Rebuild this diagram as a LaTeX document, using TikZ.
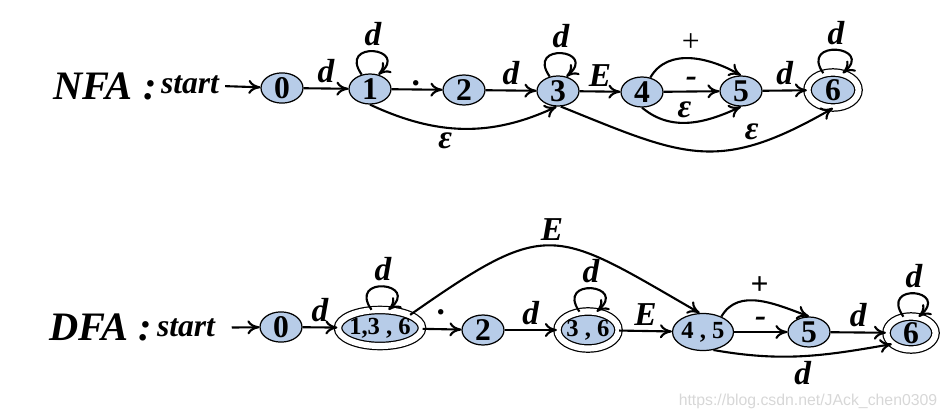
\documentclass[tikz,border=0pt]{standalone}
\usepackage{fontspec}
\setmainfont{Liberation Serif}
\newfontfamily\wmfont{Liberation Sans}
\usetikzlibrary{arrows.meta,shapes.geometric}
\definecolor{stfill}{RGB}{183,204,232}
\definecolor{wmgray}{RGB}{215,215,215}

\begin{document}
\begin{tikzpicture}[x=0.02cm,y=0.02cm,
  state/.style={ellipse,draw,fill=stfill,line width=0.7pt,inner sep=0pt,
                minimum width=0.84cm,minimum height=0.6cm,
                font=\bfseries\fontsize{18}{18}\selectfont},
  accept/.style={state,double,double distance=3.5pt},
  multi/.style={inner xsep=-8pt,font=\bfseries\fontsize{14}{14}\selectfont},
  arr/.style={-{To[length=2.4mm,width=2.8mm]},line width=1.2pt},
  lbl/.style={font=\bfseries\itshape\fontsize{19}{19}\selectfont,inner sep=2.5pt},
  title/.style={font=\bfseries\itshape\fontsize{23}{23}\selectfont},
  begin/.style={font=\bfseries\itshape\fontsize{18}{18}\selectfont}]
  \useasboundingbox (0,0) rectangle (949,-419);

  \node[title] (nfa) at (105,-86) {NFA :};
  \node[begin] (nstart) at (190,-85) {start};
  \node[state] (a0) at (282,-88) {0};
  \node[state] (a1) at (370,-89) {1};
  \node[state] (a2) at (464,-90) {2};
  \node[state] (a3) at (558,-91) {3};
  \node[state] (a4) at (642,-92) {4};
  \node[state] (a5) at (741,-91) {5};
  \node[accept,minimum width=1.02cm,minimum height=0.7cm] (a6) at (833,-90) {6};

  \draw[arr] (nstart) -- (a0);
  \draw[arr] (a0) -- node[lbl,above]{d} (a1);
  \draw[arr] (a1) -- node[lbl,above=-1pt]{.} (a2);
  \draw[arr] (a2) -- node[lbl,above]{d} (a3);
  \draw[arr] (a3) -- node[lbl,above]{E} (a4);
  \draw[arr] (a4) -- node[lbl,above]{-} (a5);
  \draw[arr] (a5) -- node[lbl,above]{d} (a6);
  \foreach \s in {a1,a3,a6}{
    \draw[arr] (\s.120) to[out=125,in=40,distance=0.85cm] node[lbl,above]{d} (\s.60);
  }
  \draw[arr] (a4.60) to[out=60,in=150] node[above,font=\fontsize{18}{18}\selectfont]{+} (a5.north);
  \draw[arr] (a4.south) to[out=-40,in=205] node[lbl,above,pos=0.45]{ε} (a5.south);
  \draw[arr] (a1.south) to[out=-25,in=205] node[lbl,below,pos=0.4]{ε} (a3.265);
  \draw[arr] (a3.280) to[out=-22,in=210,looseness=1.25] node[lbl,above,pos=0.72]{ε} (a6.south);

  \node[title] (dfa) at (101,-327) {DFA :};
  \node[begin] (dstart) at (186,-328) {start};
  \node[state] (b0) at (281,-327) {0};
  \node[accept,multi,minimum width=1.68cm,minimum height=0.72cm] (b1) at (380,-328) {1,3 , 6};
  \node[state] (b2) at (483,-330) {2};
  \node[accept,multi,minimum width=1.22cm,minimum height=0.74cm] (b3) at (588,-330) {3 , 6};
  \node[state,multi,minimum width=1.22cm,minimum height=0.74cm] (b4) at (703,-332) {4 , 5};
  \node[state] (b5) at (809,-332) {5};
  \node[accept,minimum width=0.98cm,minimum height=0.66cm] (b6) at (911,-333) {6};

  \draw[arr,shorten <=6pt] (dstart) -- (b0);
  \draw[arr] (b0) -- node[lbl,above]{d} (b1);
  \draw[arr] (b1) -- node[lbl,above=5pt]{.} (b2);
  \draw[arr] (b2) -- node[lbl,above]{d} (b3);
  \draw[arr] (b3) -- node[lbl,above]{E} (b4);
  \draw[arr] (b4) -- node[lbl,above]{-} (b5);
  \draw[arr] (b5) -- node[lbl,above]{d} (b6);
  \foreach \s in {b1,b3,b6}{
    \draw[arr] (\s.115) to[out=125,in=40,distance=0.85cm] node[lbl,above]{d} (\s.65);
  }
  \draw[arr] (b1.north east) to[out=35,in=150,looseness=1.5] node[lbl,above]{E} (b4.100);
  \draw[arr] (b4.40) to[out=60,in=160] node[above,font=\bfseries\fontsize{18}{18}\selectfont]{+} (b5.north);
  \draw[arr] (b4.-60) to[out=-10,in=190] node[lbl,below]{d} (b6.210);

  \node[font=\wmfont\fontsize{9}{9}\selectfont,text=wmgray] (wm) at (808,-401) {https://blog.csdn.net/JAck\_chen0309};
\end{tikzpicture}
\end{document}
